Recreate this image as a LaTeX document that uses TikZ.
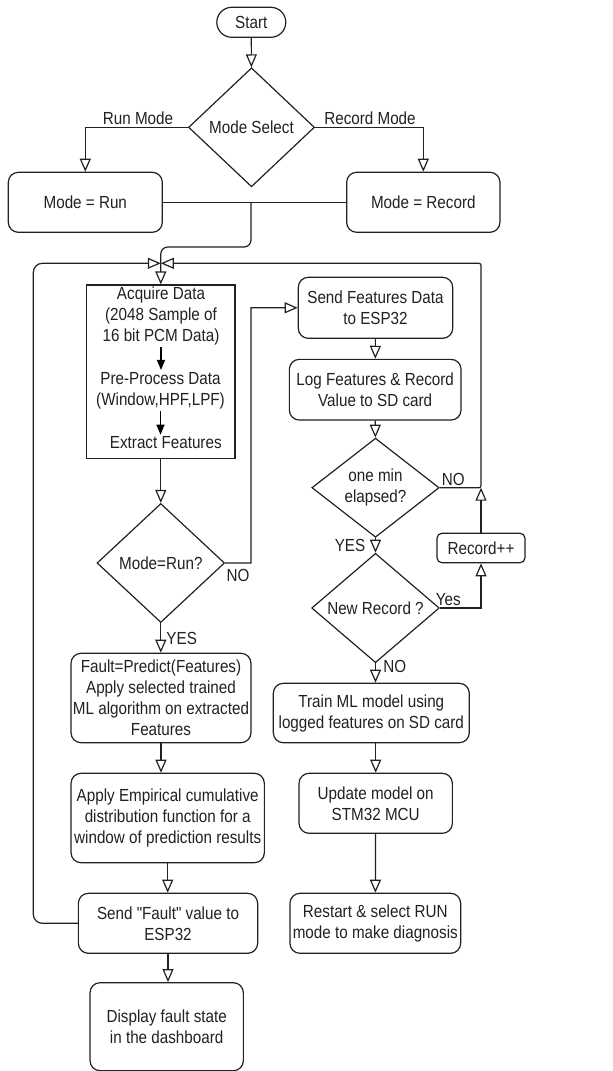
\documentclass[tikz,border=0pt]{standalone}
\usepackage{fontspec}
\setmainfont{Liberation Sans}[FakeStretch=0.87, Ligatures=TeXOff]
\usetikzlibrary{arrows.meta,shapes.geometric}
\definecolor{ink}{rgb}{0.13,0.13,0.13}
\newcommand{\fsz}{\fontsize{17.5}{21}\selectfont}
\tikzset{
  line/.style={draw=ink, line width=1.2pt},
  arr/.style={line, -{Triangle[open, length=13pt, width=11pt]}},
  inarr/.style={draw=black, line width=1.2pt, -{Triangle[length=10pt, width=8pt]}},
  box/.style={draw=ink, line width=1.2pt, rounded corners=10pt, align=center, inner sep=0pt, text=ink},
  sqbox/.style={draw=ink, line width=1.2pt, inner sep=0pt},
  dec/.style={draw=ink, line width=1.2pt, diamond, align=center, inner sep=0pt, text=ink},
  lbl/.style={inner sep=1pt, text=ink},
  intext/.style={inner sep=2pt, align=center, text=ink},
}
\begin{document}
\begin{tikzpicture}[x=1pt, y=-1pt, every node/.append style={font=\fsz}]
\useasboundingbox (0,0) rectangle (613,1071);

% top part
\node[box, rounded corners=15pt, minimum width=69pt, minimum height=30pt] (start) at (251.3,22.3) {Start};
\node[dec, minimum width=126pt, minimum height=119pt] (modesel) at (251.5,127.3) {Mode Select};
\node[box, minimum width=154pt, minimum height=60pt] (run) at (85.3,202.3) {Mode = Run};
\node[box, minimum width=153.3pt, minimum height=60pt] (record) at (423.3,202.3) {Mode = Record};
\coordinate (mj) at (251,202.3);
\coordinate (mbend) at (251,247);
\coordinate (merge) at (160.8,263.3);
\coordinate (lloop) at (33.3,263.3);

% acquire block
\node[sqbox, minimum width=148.3pt, minimum height=173.3pt] (acq) at (160.8,371.7) {};
\node[intext] (acq1) at (161,315.7) {Acquire Data\\(2048 Sample of\\16 bit PCM Data)};
\node[intext] (acq2) at (160.5,390.5) {Pre-Process Data\\(Window,HPF,LPF)};
\node[intext] (acq3) at (165.8,443) {Extract Features};

% left column
\node[dec, minimum width=127.6pt, minimum height=119pt] (moderun) at (160.8,563) {Mode=Run?};
\coordinate (nocorner) at (251,307.7);
\node[box, minimum width=180pt, minimum height=89.4pt] (fault) at (161,698) {Fault=Predict(Features)\\Apply selected trained\\ML algorithm on extracted\\Features};
\node[box, minimum width=193.3pt, minimum height=89.4pt] (ecdf) at (167.7,818) {Apply Empirical cumulative\\distribution function for a\\window of prediction results};
\node[box, minimum width=179.3pt, minimum height=60pt] (sendfault) at (168,923.3) {Send "Fault" value to\\ESP32};
\node[box, minimum width=153.3pt, minimum height=88pt] (display) at (166.7,1026.7) {Display fault state\\in the dashboard};

% right column
\node[box, minimum width=154.4pt, minimum height=61pt] (sendfeat) at (375.5,307.8) {Send Features Data\\to ESP32};
\node[box, minimum width=171.7pt, minimum height=60.7pt] (logf) at (375.2,389.7) {Log Features \& Record\\Value to SD card};
\node[dec, minimum width=127.3pt, minimum height=88.4pt] (onemin) at (375.5,487.7) {one min\\elapsed?};
\coordinate (nojoin) at (481,487.7);
\node[box, rounded corners=5pt, minimum width=88pt, minimum height=29.5pt] (recplus) at (481,548) {Record++};
\node[dec, minimum width=127.7pt, minimum height=89pt] (newrec) at (375.5,608) {New Record ?};
\node[box, minimum width=196pt, minimum height=59.4pt] (train) at (371.3,713) {Train ML model using\\logged features on SD card};
\node[box, minimum width=153.3pt, minimum height=60pt] (update) at (375.7,803.3) {Update model on\\STM32 MCU};
\node[box, minimum width=170.7pt, minimum height=60pt] (restart) at (375.3,923.3) {Restart \& select RUN\\mode to make diagnosis};

% edges top
\draw[arr] (start) -- (modesel);
\draw[arr] (modesel.west) -| (run.north);
\draw[arr] (modesel.east) -| (record.north);
\draw[line] (run.east) -- (mj);
\draw[line] (record.west) -- (mj);
\draw[arr, rounded corners=7pt] (mj) -- (mbend) -| (acq.north);
\draw[arr, rounded corners=9pt] (sendfault.west) -| (lloop) -- (merge);
\draw[arr, rounded corners=2pt] (onemin.east) -- (nojoin) |- (merge);

% inner arrows
\draw[inarr] (acq1.south) -- (acq1.south |- acq2.north);
\draw[inarr] (acq2.south) -- (acq2.south |- acq3.north);

% left column edges
\draw[arr] (acq.south) -- (moderun.north);
\draw[arr] (moderun.east) -| (nocorner) -- (sendfeat.west);
\draw[arr] (moderun.south) -- (moderun.south |- fault.north);
\draw[arr] (fault.south) -- (fault.south |- ecdf.north);
\draw[arr] (ecdf.south) -- (ecdf.south |- sendfault.north);
\draw[arr] (sendfault.south) -- (sendfault.south |- display.north);

% right column edges
\draw[arr] (sendfeat) -- (logf);
\draw[arr] (logf) -- (onemin);
\draw[arr] (onemin) -- (newrec);
\draw[arr] (recplus) -- (nojoin);
\draw[arr] (newrec.east) -| (recplus.south);
\draw[arr] (newrec.south) -- (newrec.south |- train.north);
\draw[arr] (update.north |- train.south) -- (update.north);
\draw[arr] (update) -- (restart);

% labels
\node[lbl] (lrun) at (138,118) {Run Mode};
\node[lbl] (lrec) at (370,118) {Record Mode};
\node[lbl] (lno1) at (238,575) {NO};
\node[lbl] (lyes1) at (181.7,638.3) {YES};
\node[lbl] (lno2) at (453.3,479.3) {NO};
\node[lbl] (lyes2) at (350,545) {YES};
\node[lbl] (lyes3) at (448.3,600) {Yes};
\node[lbl] (lno3) at (394.7,666) {NO};
\end{tikzpicture}
\end{document}
